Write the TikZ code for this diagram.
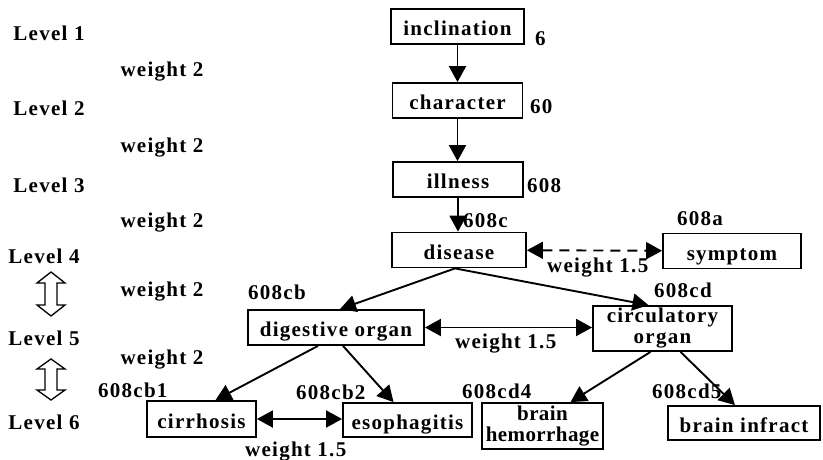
\documentclass[tikz,border=0pt]{standalone}
\usepackage{fontspec}
\setmainfont{Liberation Serif}[LetterSpace=6]
\usetikzlibrary{arrows.meta}
\begin{document}
\begin{tikzpicture}[x=1pt,y=-1pt,
  every node/.style={font=\fontsize{21}{21}\selectfont\bfseries, inner sep=0pt},
  concept/.style={draw, line width=1.8pt, minimum height=35pt},
  oneline/.style={text height=18pt, text depth=0pt},
  lbl/.style={anchor=center},
  code/.style={anchor=west},
  link/.style={line width=1.9pt, -{Triangle[length=16pt,width=17pt]}},
  blink/.style={line width=1.9pt, {Triangle[length=16pt,width=17pt]}-{Triangle[length=16pt,width=17pt]}},
  updown/.style={draw, line width=1.3pt, fill=white}]
\useasboundingbox (0,0) rectangle (823,460);

% concept boxes
\node[concept, oneline, minimum width=133pt] (incl) at (457.5,26.5) {inclination};
\node[concept, oneline, minimum width=130pt] (char) at (457.5,100.5) {character};
\node[concept, oneline, minimum width=130pt] (ill) at (458,179.5) {illness};
\node[concept, oneline, minimum width=134pt] (dis) at (459,250) {disease};
\node[concept, oneline, minimum width=138pt] (sym) at (732,251) {symptom};
\node[concept, oneline, minimum width=176pt] (dig) at (336,327.5) {digestive organ};
\node[concept, minimum width=139pt, minimum height=45pt, align=center] (circ) at (662.5,328.5) {circulatory\\organ};
\node[concept, oneline, minimum width=109pt, minimum height=36pt] (cirr) at (201.5,419) {cirrhosis};
\node[concept, oneline, minimum width=129pt, minimum height=34pt] (eso) at (407.5,420) {esophagitis};
\node[concept, minimum width=121pt, minimum height=46pt, align=center,
      font=\fontsize{21}{21}\selectfont\bfseries\addfontfeature{LetterSpace=2}] (hem) at (542.5,426) {brain\\hemorrhage};
\node[concept, oneline, minimum width=152pt, minimum height=34pt] (inf) at (744,423) {brain infract};

% level labels
\node[lbl] (l1) at (49,33) {Level 1};
\node[lbl] (l2) at (49,108) {Level 2};
\node[lbl] (l3) at (49,185) {Level 3};
\node[lbl] (l4) at (44,256) {Level 4};
\node[lbl] (l5) at (44,338) {Level 5};
\node[lbl] (l6) at (44,422) {Level 6};

% weights between levels
\node[lbl] (w1) at (162,72) {weight 2};
\node[lbl] (w2) at (162,148) {weight 2};
\node[lbl] (w3) at (162,223) {weight 2};
\node[lbl] (w4) at (162,292) {weight 2};
\node[lbl] (w5) at (162,360) {weight 2};

% codes
\node[code] (c1) at (535,39) {6};
\node[code] (c2) at (530,107) {60};
\node[code] (c3) at (527,186) {608};
\node[code] (c4) at (463,221) {608c};
\node[code] (c5) at (677,219) {608a};
\node[code] (c6) at (248,292) {608cb};
\node[code] (c7) at (654,290) {608cd};
\node[code] (c8) at (98,390) {608cb1};
\node[code] (c9) at (296,392) {608cb2};
\node[code] (c10) at (462,391) {608cd4};
\node[code] (c11) at (652,391) {608cd5};

% same-level weights
\node[code] (s1) at (547,268) {weight 1.5};
\node[code] (s2) at (455,344) {weight 1.5};
\node[code] (s3) at (245,452) {weight 1.5};

% hollow double arrows between levels
\foreach \cy/\hh/\hd in {294/22/11, 379.5/20.5/10} {
  \draw[updown] (51,\cy-\hh) -- (65,\cy-\hh+\hd) -- (57,\cy-\hh+\hd) -- (57,\cy+\hh-\hd)
    -- (65,\cy+\hh-\hd) -- (51,\cy+\hh) -- (37,\cy+\hh-\hd) -- (45,\cy+\hh-\hd)
    -- (45,\cy-\hh+\hd) -- (37,\cy-\hh+\hd) -- cycle;
}

% hierarchy links
\draw[link] (incl) -- (incl |- char.north);
\draw[link] (char) -- (char |- ill.north);
\draw[link] (ill) -- (ill |- dis.north);
\draw[link] ([xshift=-4pt]dis.south) -- ([xshift=4pt]dig.north);
\draw[link] ([xshift=-4pt]dis.south) -- ([xshift=-14pt]circ.north);
\draw[link] ([xshift=-18pt]dig.south) -- ([xshift=14pt]cirr.north);
\draw[link] ([xshift=7pt]dig.south) -- ([xshift=-14pt]eso.north);
\draw[link] ([xshift=-12pt]circ.south) -- ([xshift=28pt]hem.north);
\draw[link] ([xshift=18pt]circ.south) -- ([xshift=-9pt]inf.north);

% same-level links
\draw[blink, dashed, dash pattern=on 10pt off 7pt] (dis) -- (sym);
\draw[blink] (dig) -- (dig -| circ.west);
\draw[blink] (cirr.east) -- (cirr.east -| eso.west);
\end{tikzpicture}
\end{document}
